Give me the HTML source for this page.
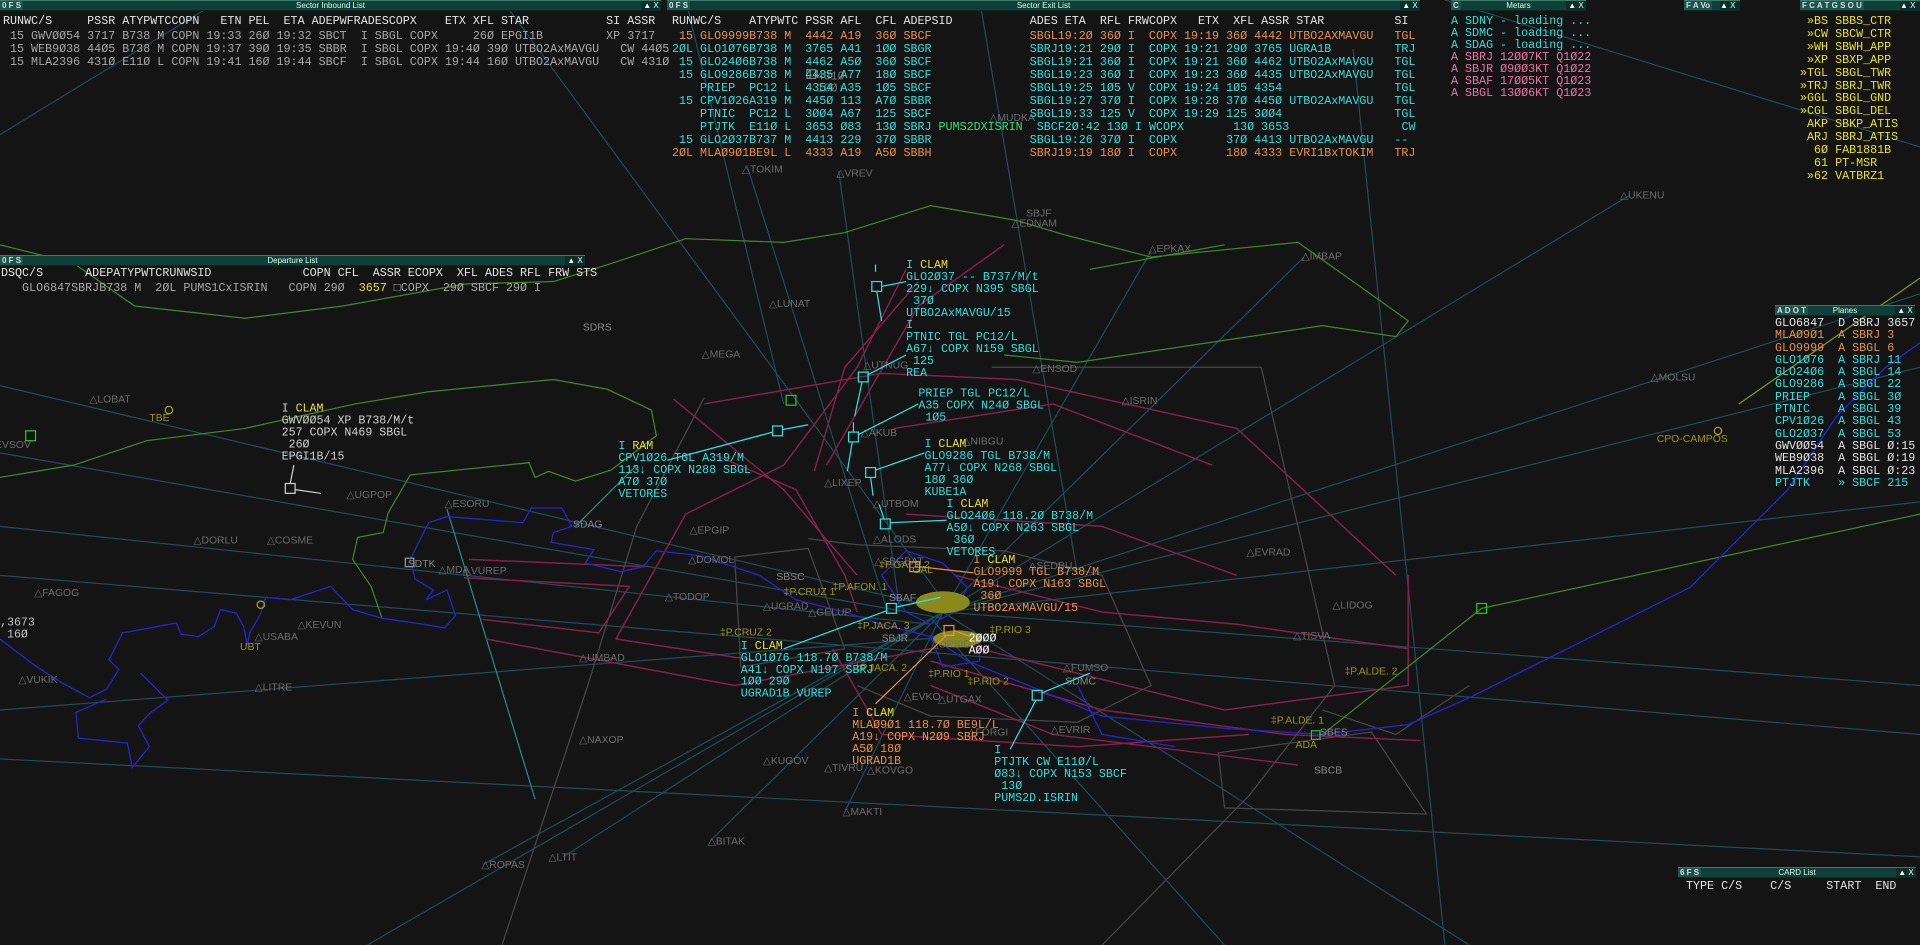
<!DOCTYPE html>
<html><head><meta charset="utf-8">
<style>
html,body{margin:0;padding:0;background:#141414;width:1920px;height:945px;overflow:hidden}
#map{position:absolute;left:0;top:0}
.bar{position:absolute;height:9px;background:#0f3f36;border-top:1px solid #3b7a6c;border-bottom:1px solid #0a2a24;font:8px "Liberation Sans",sans-serif;color:#dfe;text-align:center;line-height:9px}
.bx{position:absolute;top:0;height:9px;font:bold 8px "Liberation Sans",sans-serif;color:#dde;line-height:9px;background:#1d5448;padding:0 2px}
.bt{position:absolute;top:0;right:0;height:9px;width:20px;font:8px "Liberation Sans",sans-serif;color:#fff;line-height:9px;background:#0b2e28}
pre{position:absolute;margin:0;font-family:"Liberation Mono",monospace;font-size:11.7px;line-height:13px;white-space:pre}
.w{color:#e4e4e4}.g{color:#a8a8a8}.o{color:#e8914c}.c{color:#33dede}.y{color:#e8e030}.p{color:#e873a6}
</style></head><body>

<svg id="map" width="1920" height="945" viewBox="0 0 1568 772" preserveAspectRatio="none" xmlns="http://www.w3.org/2000/svg">
<rect width="1568" height="772" fill="#141414"/>
<!-- teal radials -->
<g stroke="#1d4c5a" stroke-width="1" fill="none">
<path d="M0,315 L780,500"/><path d="M0,370 L770,505"/><path d="M0,430 L760,510"/><path d="M0,470 L1568,600"/>
<path d="M0,580 L780,520"/><path d="M0,620 L1568,700"/><path d="M0,110 L180,0"/><path d="M410,0 L770,490"/>
<path d="M610,135 L725,500"/><path d="M685,140 L735,500"/><path d="M800,0 L880,470"/><path d="M1105,40 L1180,772"/>
<path d="M770,500 L1568,300"/><path d="M770,500 L1568,410"/><path d="M770,500 L1330,160"/><path d="M770,500 L1065,210"/>
<path d="M770,500 L940,205"/><path d="M770,500 L460,700"/><path d="M770,500 L395,706"/><path d="M770,500 L690,663"/>
<path d="M770,500 L580,687"/><path d="M770,500 L1568,560"/><path d="M770,500 L1568,240"/><path d="M760,505 L1000,772"/>
<path d="M1180,0 L1568,120"/><path d="M560,0 L640,330"/><path d="M770,500 L300,772"/><path d="M770,500 L1200,772"/>
</g>
<path d="M365,416 L437,653" stroke="#2a8a8a" fill="none"/>
<path d="M520,380 L470,430" stroke="#2a8a8a" fill="none"/>
<!-- grey sectors -->
<g stroke="#474747" stroke-width="1" fill="none">
<path d="M1030,300 L1090,560 L1020,650 L900,772"/>
<path d="M575,325 L520,430 L480,560 L410,772"/>
<path d="M600,455 L660,448 L690,530 L605,545 Z"/>
<path d="M995,615 L1120,598 L1165,665 L1000,660 Z"/>
<path d="M660,440 L700,445 L820,450 L900,470 L940,560 L880,590 L760,585 L700,560"/>
<path d="M1080,580 L1140,600 L1200,560"/>
<path d="M810,300 L1030,300"/>
</g>
<!-- crimson -->
<g stroke="#86204a" stroke-width="1.2" fill="none">
<path d="M575,330 L720,305 L830,310 L1010,350 L1140,470"/>
<path d="M383,457 L527,463"/><path d="M379,472 L514,479 L489,517 L394,506"/>
<path d="M397,522 L600,560 L760,530"/><path d="M503,522 L620,540"/>
<path d="M503,522 L560,420 L640,380 L700,300 L740,220"/>
<path d="M550,326 L640,400 L700,470"/>
<path d="M580,370 L650,400 L690,470 L700,500"/>
<path d="M665,385 L690,300 L750,230"/><path d="M675,380 L750,250 L820,200"/>
<path d="M760,520 L900,555 L1000,580 L1150,560 L1150,470"/>
<path d="M760,540 L900,580 L1050,600 L1160,605"/>
<path d="M780,470 L900,500 L1010,510 L1150,530"/>
<path d="M740,420 L900,430 L1010,470"/>
<path d="M730,350 L860,330 L990,380"/>
<path d="M680,530 L720,600 L880,610 L1020,600"/>
<path d="M760,560 L860,600 L1060,625"/>
</g>
<!-- green -->
<g stroke="#3f8a2a" stroke-width="1" fill="none">
<path d="M0,200 L60,215 L110,250 L200,260 L280,250 L380,232 L452,230 L500,215 L560,195 L640,198 L690,190 L760,168 L830,180 L870,192 L940,210 L1060,198 L1150,262 L1140,275 L1080,266 L880,296 L820,290"/>
<path d="M452,310 L496,318 L532,335 L536,356 L499,384 L470,393 L448,385 L437,390 L432,378 L335,388 L317,419 L313,435 L292,439 L288,457 L303,479 L312,505"/>
<path d="M0,390 L60,380 L120,360 L200,350 L290,330 L350,320 L452,310"/>
<path d="M890,220 L1000,200"/>
</g>
<path d="M1420,330 L1780,80" stroke="#7e9a2a" fill="none"/>
<path d="M1080,600 L1210,497 L1568,420" stroke="#3f8a2a" fill="none"/>
<!-- blue coast -->
<g stroke="#2424c8" stroke-width="1.1" fill="none">
<path d="M365,422 L427,427 L434,415 L459,415 L467,430 L452,435 L450,443 L485,449 L478,460 L507,467 L525,463 L536,450 L572,454 L620,470 L650,490 L690,500 L720,510 L760,520 L790,540 L840,560 L900,585 L1000,595 L1080,600 L1150,592 L1200,570 L1260,540 L1320,510 L1380,480 L1420,440 L1460,400 L1500,340 L1540,300 L1568,280"/>
<path d="M365,422 L350,427 L335,457 L339,473 L354,482 L348,490 L365,482 L372,503 L363,513 L346,510 L312,505 L288,498 L270,479 L237,490 L217,488 L213,501 L204,517 L202,527 L199,512 L193,501 L180,498 L175,512 L162,520 L148,518 L144,509 L100,517 L89,539 L97,547 L87,563 L73,570 L51,558 L29,544 L0,522"/>
<path d="M115,550 L131,566 L137,572 L122,583 L113,593 L122,610 L108,627 L104,607 L64,603 L62,582 L87,571"/>
<path d="M720,470 L740,450 L770,460 L790,480 L780,500 L760,510 L740,500 Z"/>
<path d="M760,520 L800,520 L800,540 L770,545 Z"/>
<path d="M880,560 L900,600 L960,610"/>
</g>
<ellipse cx="770" cy="492" rx="22" ry="9" fill="#8a8a1c"/>
<ellipse cx="782" cy="522" rx="20" ry="7" fill="#8a8a1c"/>
<!-- green squares / markers -->
<g fill="none" stroke-width="1">
<rect x="642" y="323" width="8" height="8" stroke="#28c828"/>
<rect x="21" y="352" width="8" height="8" stroke="#28c828"/>
<rect x="1206" y="493" width="8" height="8" stroke="#28c828"/>
<rect x="1071" y="597" width="7" height="7" stroke="#28c828"/>
<circle cx="138" cy="335" r="3" stroke="#b0a020"/>
<circle cx="1403" cy="352" r="3" stroke="#b0a020"/>
<circle cx="213" cy="494" r="3" stroke="#b0a020"/>
<rect x="331" y="456" width="7" height="7" stroke="#999"/>
</g>
<!-- labels grey -->
<g font-family="Liberation Sans,sans-serif" font-size="8.5" fill="#6c6c6c">
<text x="606" y="141">△TOKIM</text><text x="683" y="144">△VREV</text><text x="628" y="251">△LUNAT</text>
<text x="573" y="292">△MEGA</text><text x="73" y="329">△LOBAT</text><text x="-4" y="366">EVSOV</text>
<text x="283" y="407">△UGPOP</text><text x="363" y="414">△ESORU</text><text x="158" y="444">△DORLU</text>
<text x="218" y="444">△COSME</text><text x="358" y="468">△MDA</text><text x="378" y="469">△VUREP</text>
<text x="563" y="436">△EPGIP</text><text x="543" y="490">△TODOP</text><text x="623" y="498">△UGRAD</text>
<text x="28" y="487">△FAGOG</text><text x="243" y="513">△KEVUN</text><text x="208" y="523">△USABA</text>
<text x="473" y="540">△UMBAD</text><text x="15" y="558">△VUKIK</text><text x="208" y="564">△LITRE</text>
<text x="473" y="607">△NAXOP</text><text x="623" y="624">△KUGOV</text><text x="673" y="630">△TIVRU</text>
<text x="708" y="632">△KOVGO</text><text x="688" y="666">△MAKTI</text><text x="578" y="690">△BITAK</text>
<text x="393" y="709">△ROPAS</text><text x="448" y="703">△LTIT</text><text x="673" y="397">△LIXEP</text>
<text x="713" y="414">△UTBOM</text><text x="703" y="356">△AKUB</text><text x="705" y="301">△UTNUG</text>
<text x="1323" y="162">△UKENU</text><text x="1063" y="212">△IMBAP</text><text x="938" y="206">△EPKAX</text>
<text x="843" y="304">△ENSOD</text><text x="916" y="330">△ISRIN</text><text x="1348" y="311">△MOLSU</text>
<text x="1018" y="454">△EVRAD</text><text x="1088" y="497">△LIDOG</text><text x="1056" y="522">△TISVA</text>
<text x="868" y="548">△FUMSO</text><text x="858" y="599">△EVRIR</text><text x="790" y="601">△FORGI</text>
<text x="808" y="99">△MUDKA</text><text x="826" y="185">△EDNAM</text><text x="786" y="363">△NIBGU</text>
<text x="713" y="443">△ALODS</text><text x="760" y="529">△OPSID</text><text x="738" y="572">△EVKO</text>
<text x="766" y="574">△UTGAX</text><text x="714" y="461">△SBGBAT</text><text x="840" y="465">△SEDBU</text>
<text x="660" y="503">△GELUP</text><text x="562" y="460">△DOMOL</text>
<text x="476" y="270" fill="#888">SDRS</text><text x="468" y="431" fill="#888">SDAG</text>
<text x="333" y="463" fill="#888">SDTK</text><text x="720" y="524" fill="#888">SBJR</text>
<text x="726" y="491" fill="#888">SBAF</text><text x="634" y="474" fill="#888">SBSC</text>
<text x="1078" y="601" fill="#888">SBES</text><text x="1073" y="632" fill="#888">SBCB</text>
<text x="870" y="559" fill="#888">SDMC</text><text x="838" y="177">SBJF</text>
</g>
<g font-family="Liberation Sans,sans-serif" font-size="8.5" fill="#9a9420">
<text x="718" y="464">‡P.GALE 2</text><text x="640" y="486">‡P.CRUZ 1</text><text x="680" y="482">‡P.AFON. 1</text>
<text x="588" y="519">‡P.CRUZ 2</text><text x="700" y="514">‡P.JACA. 3</text><text x="698" y="548">‡P.JACA. 2</text>
<text x="758" y="553">‡P.RIO 1</text><text x="790" y="559">‡P.RIO 2</text><text x="808" y="517">‡P.RIO 3</text>
<text x="1098" y="551">‡P.ALDE. 2</text><text x="1038" y="591">‡P.ALDE. 1</text><text x="1058" y="611">ADA</text>
<text x="122" y="344">TBE</text><text x="196" y="531">UBT</text><text x="1353" y="361">CPO-CAMPOS</text>
<text x="745" y="468">GAL</text>
</g>
<!-- tracks -->
<g stroke="#33e0e0" stroke-width="1" fill="none">
<rect x="712" y="230" width="8" height="8"/><path d="M720,234 L740,230 M716,238 L720,262 M715,222 L715,216"/>
<rect x="701" y="304" width="8" height="8"/><path d="M709,306 L740,290 M704,312 L698,340"/>
<rect x="693" y="353" width="8" height="8"/><path d="M701,355 L750,330 M696,361 L692,385 M697,353 L697,345"/>
<rect x="707" y="382" width="8" height="8"/><path d="M715,384 L755,370 M711,390 L713,405"/>
<rect x="719" y="424" width="8" height="8"/><path d="M727,427 L773,425 M722,424 L718,412"/>
<rect x="631" y="348" width="8" height="8"/><path d="M631,353 L545,376 M639,351 L660,347"/>
<rect x="724" y="493" width="8" height="8"/><path d="M724,499 L640,530 M732,496 L768,488"/>
<rect x="843" y="564" width="8" height="8"/><path d="M846,572 L825,612 M851,566 L890,550"/>
</g>
<g stroke="#e8914c" fill="none"><rect x="743" y="459" width="8" height="8"/><path d="M751,463 L795,468"/>
<rect x="771" y="511" width="8" height="8"/><path d="M773,519 L715,575 M779,515 L792,520"/></g>
<g stroke="#cfcfcf" fill="none"><rect x="233" y="395" width="8" height="8"/><path d="M241,400 L262,403 M237,395 L240,380"/>
<rect x="659" y="57" width="7" height="7" stroke="#888"/></g>
<!-- data blocks -->
<g font-family="Liberation Mono,monospace" font-size="9.5" xml:space="preserve">
<text x="230" y="336" fill="#d0d0d0"><tspan>I </tspan><tspan fill="#e8e030">CLAM</tspan><tspan x="230" dy="9.8">GWVØØ54 XP B738/M/t</tspan><tspan x="230" dy="9.8">257 COPX N469 SBGL</tspan><tspan x="230" dy="9.8"> 26Ø</tspan><tspan x="230" dy="9.8">EPGI1B/15</tspan></text>
<text x="505" y="367" fill="#33dede"><tspan>I </tspan><tspan fill="#e8e030">RAM</tspan><tspan x="505" dy="9.8">CPV1Ø26 TGL A319/M</tspan><tspan x="505" dy="9.8">113↓ COPX N288 SBGL</tspan><tspan x="505" dy="9.8">A7Ø 37Ø</tspan><tspan x="505" dy="9.8">VETORES</tspan></text>
<text x="740" y="219" fill="#33dede"><tspan>I </tspan><tspan fill="#e8e030">CLAM</tspan><tspan x="740" dy="9.8">GLO2Ø37 -- B737/M/t</tspan><tspan x="740" dy="9.8">229↓ COPX N395 SBGL</tspan><tspan x="740" dy="9.8"> 37Ø</tspan><tspan x="740" dy="9.8">UTBO2AxMAVGU/15</tspan></text>
<text x="740" y="268" fill="#33dede"><tspan>I</tspan><tspan x="740" dy="9.8">PTNIC TGL PC12/L</tspan><tspan x="740" dy="9.8">A67↓ COPX N159 SBGL</tspan><tspan x="740" dy="9.8">  125</tspan><tspan x="740" dy="9.8">REA</tspan></text>
<text x="750" y="324" fill="#33dede"><tspan>PRIEP TGL PC12/L</tspan><tspan x="750" dy="9.8">A35 COPX N24Ø SBGL</tspan><tspan x="750" dy="9.8"> 1Ø5</tspan></text>
<text x="755" y="365" fill="#33dede"><tspan>I </tspan><tspan fill="#e8e030">CLAM</tspan><tspan x="755" dy="9.8">GLO9286 TGL B738/M</tspan><tspan x="755" dy="9.8">A77↓ COPX N268 SBGL</tspan><tspan x="755" dy="9.8">18Ø 36Ø</tspan><tspan x="755" dy="9.8">KUBE1A</tspan></text>
<text x="773" y="414" fill="#33dede"><tspan>I </tspan><tspan fill="#e8e030">CLAM</tspan><tspan x="773" dy="9.8">GLO24Ø6 118.2Ø B738/M</tspan><tspan x="773" dy="9.8">A5Ø↓ COPX N263 SBGL</tspan><tspan x="773" dy="9.8"> 36Ø</tspan><tspan x="773" dy="9.8">VETORES</tspan></text>
<text x="795" y="460" fill="#e8914c"><tspan>I </tspan><tspan fill="#e8e030">CLAM</tspan><tspan x="795" dy="9.8">GLO9999 TGL B738/M</tspan><tspan x="795" dy="9.8">A19↓ COPX N163 SBGL</tspan><tspan x="795" dy="9.8"> 36Ø</tspan><tspan x="795" dy="9.8">UTBO2AxMAVGU/15</tspan></text>
<text x="605" y="530" fill="#33dede"><tspan>I </tspan><tspan fill="#e8e030">CLAM</tspan><tspan x="605" dy="9.8">GLO1Ø76 118.7Ø B738/M</tspan><tspan x="605" dy="9.8">A41↓ COPX N197 SBRJ</tspan><tspan x="605" dy="9.8">1ØØ 29Ø</tspan><tspan x="605" dy="9.8">UGRAD1B VUREP</tspan></text>
<text x="696" y="585" fill="#e8914c"><tspan>I </tspan><tspan fill="#e8e030">CLAM</tspan><tspan x="696" dy="9.8">MLAØ9Ø1 118.7Ø BE9L/L</tspan><tspan x="696" dy="9.8">A19↓ COPX N2Ø9 SBRJ</tspan><tspan x="696" dy="9.8">A5Ø 18Ø</tspan><tspan x="696" dy="9.8">UGRAD1B</tspan></text>
<text x="812" y="615" fill="#33dede"><tspan>I</tspan><tspan x="812" dy="9.8">PTJTK CW E11Ø/L</tspan><tspan x="812" dy="9.8">Ø83↓ COPX N153 SBCF</tspan><tspan x="812" dy="9.8"> 13Ø</tspan><tspan x="812" dy="9.8">PUMS2D.ISRIN</tspan></text>
<text x="791" y="524" fill="#ffffff"><tspan>2ØØØ</tspan><tspan x="791" dy="9.8">AØØ</tspan></text>
<text x="0" y="511" fill="#c0c0c0"><tspan>,3673</tspan><tspan x="0" dy="9.8"> 16Ø</tspan></text>
<text x="667" y="65" fill="#777"><tspan>431Ø</tspan><tspan x="667" dy="9.8">1ØØ↓</tspan></text>
</g>
</svg>

<!-- Sector Inbound List -->
<div class="bar" style="left:0;top:0;width:661px">Sector Inbound List<span class="bx" style="left:0">0 F S</span><span class="bt">▲ X</span></div>
<pre class="w" style="left:3px;top:15px">RUNWC/S     PSSR ATYPWTCCOPN   ETN PEL  ETA ADEPWFRADESCOPX    ETX XFL STAR           SI ASSR</pre>
<pre class="g" style="left:3px;top:30px"> 15 GWVØØ54 3717 B738 M COPN 19:33 26Ø 19:32 SBCT  I SBGL COPX     26Ø EPGI1B         XP 3717
 15 WEB9Ø38 44Ø5 B738 M COPN 19:37 39Ø 19:35 SBBR  I SBGL COPX 19:4Ø 39Ø UTBO2AxMAVGU   CW 44Ø5
 15 MLA2396 431Ø E11Ø L COPN 19:41 16Ø 19:44 SBCF  I SBGL COPX 19:44 16Ø UTBO2AxMAVGU   CW 431Ø</pre>

<!-- Sector Exit List -->
<div class="bar" style="left:667px;top:0;width:753px">Sector Exit List<span class="bx" style="left:0">0 F S</span><span class="bt">▲ X</span></div>
<pre class="w" style="left:672px;top:15px">RUNWC/S    ATYPWTC PSSR AFL  CFL ADEPSID           ADES ETA  RFL FRWCOPX   ETX  XFL ASSR STAR          SI</pre>
<pre style="left:672px;top:30px"><span class="o"> 15 GLO9999B738 M  4442 A19  36Ø SBCF              SBGL19:2Ø 36Ø I  COPX 19:19 36Ø 4442 UTBO2AXMAVGU   TGL</span>
<span class="c">2ØL GLO1Ø76B738 M  3765 A41  1ØØ SBGR              SBRJ19:21 29Ø I  COPX 19:21 29Ø 3765 UGRA1B         TRJ
 15 GLO24Ø6B738 M  4462 A5Ø  36Ø SBCF              SBGL19:21 36Ø I  COPX 19:21 36Ø 4462 UTBO2AxMAVGU   TGL
 15 GLO9286B738 M  4435 A77  18Ø SBCF              SBGL19:23 36Ø I  COPX 19:23 36Ø 4435 UTBO2AxMAVGU   TGL
    PRIEP  PC12 L  4354 A35  1Ø5 SBCF              SBGL19:25 1Ø5 V  COPX 19:24 1Ø5 4354                TGL
 15 CPV1Ø26A319 M  445Ø 113  A7Ø SBBR              SBGL19:27 37Ø I  COPX 19:28 37Ø 445Ø UTBO2AxMAVGU   TGL
    PTNIC  PC12 L  3ØØ4 A67  125 SBCF              SBGL19:33 125 V  COPX 19:29 125 3ØØ4                TGL
    PTJTK  E11Ø L  3653 Ø83  13Ø SBRJ <span style="color:#33e07a">PUMS2DXISRIN</span>  SBCF2Ø:42 13Ø I WCOPX       13Ø 3653                CW
 15 GLO2Ø37B737 M  4413 229  37Ø SBBR              SBGL19:26 37Ø I  COPX       37Ø 4413 UTBO2AxMAVGU   --</span>
<span class="o">2ØL MLAØ9Ø1BE9L L  4333 A19  A5Ø SBBH              SBRJ19:19 18Ø I  COPX       18Ø 4333 EVRI1BxTOKIM   TRJ</span></pre>

<!-- Metars -->
<div class="bar" style="left:1451px;top:0;width:135px">Metars<span class="bx" style="left:0">C</span><span class="bt">▲ X</span></div>
<pre style="left:1451px;top:15px;line-height:12px"><span class="c">A SDNY - loading ...
A SDMC - loading ...
A SDAG - loading ...</span>
<span class="p">A SBRJ 12ØØ7KT Q1Ø22
A SBJR Ø9ØØ3KT Q1Ø22
A SBAF 17ØØ5KT Q1Ø23
A SBGL 13ØØ6KT Q1Ø23</span></pre>

<div class="bar" style="left:1684px;top:0;width:56px;text-align:left"><span class="bx" style="left:0">F A Vo</span><span class="bt">▲ X</span></div>
<div class="bar" style="left:1800px;top:0;width:120px;text-align:left"><span class="bx" style="left:0">F C A T G S O U</span><span class="bt">▲ X</span></div>
<pre class="y" style="left:1800px;top:15px;line-height:12.9px"> »BS SBBS_CTR
 »CW SBCW_CTR
 »WH SBWH_APP
 »XP SBXP_APP
»TGL SBGL_TWR
»TRJ SBRJ_TWR
»GGL SBGL_GND
»CGL SBGL_DEL
 AKP SBKP_ATIS
 ARJ SBRJ_ATIS
  6Ø FAB1881B
  61 PT-MSR
 »62 VATBRZ1</pre>

<!-- Departure List -->
<div class="bar" style="left:0;top:255px;width:585px">Departure List<span class="bx" style="left:0">0 F S</span><span class="bt">▲ X</span></div>
<pre class="w" style="left:1px;top:267px">DSQC/S      ADEPATYPWTCRUNWSID             COPN CFL  ASSR ECOPX  XFL ADES RFL FRW STS</pre>
<pre class="g" style="left:1px;top:282px">   GLO6847SBRJB738 M  2ØL PUMS1CxISRIN   COPN 29Ø  <span class="y">3657</span> □COPX  29Ø SBCF 29Ø I</pre>

<!-- Planes -->
<div class="bar" style="left:1775px;top:305px;width:140px">Planes<span class="bx" style="left:0">A D O T</span><span class="bt">▲ X</span></div>
<pre style="left:1775px;top:317px;line-height:12.3px"><span class="w">GLO6847  D SBRJ 3657</span>
<span class="o">MLAØ9Ø1  A SBRJ 3
GLO9999  A SBGL 6</span>
<span class="c">GLO1Ø76  A SBRJ 11
GLO24Ø6  A SBGL 14
GLO9286  A SBGL 22
PRIEP    A SBGL 3Ø
PTNIC    A SBGL 39
CPV1Ø26  A SBGL 43
GLO2Ø37  A SBGL 53</span>
<span class="w">GWVØØ54  A SBGL Ø:15
WEB9Ø38  A SBGL Ø:19
MLA2396  A SBGL Ø:23</span>
<span class="c">PTJTK    » SBCF 215</span></pre>

<!-- CARD List -->
<div class="bar" style="left:1678px;top:867px;width:238px">CARD List<span class="bx" style="left:0">6 F S</span><span class="bt">▲ X</span></div>
<pre class="w" style="left:1686px;top:880px">TYPE C/S    C/S     START  END</pre>
</body></html>
